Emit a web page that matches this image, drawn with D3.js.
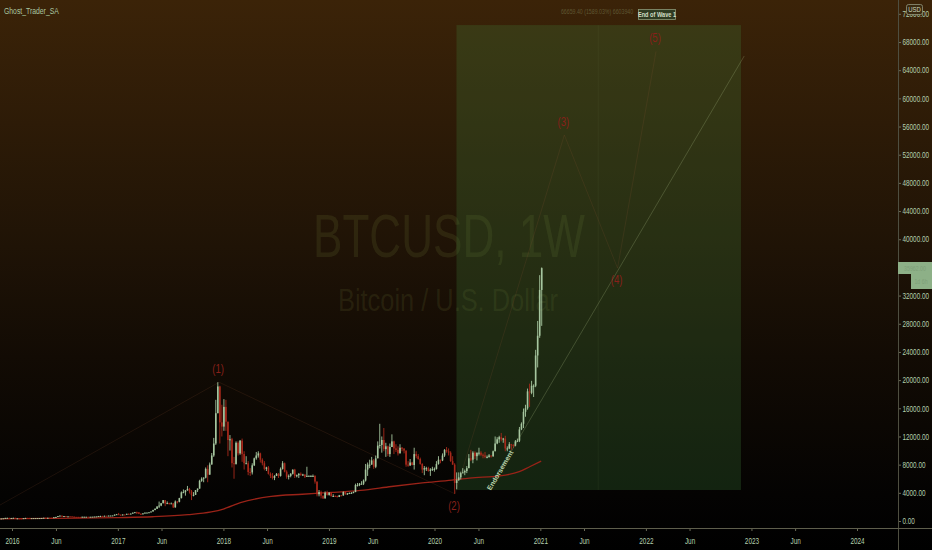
<!DOCTYPE html>
<html>
<head>
<meta charset="utf-8">
<script src="https://cdn.jsdelivr.net/npm/d3@7"></script>
<style>
html, body { margin: 0; padding: 0; background: #000; }
svg { display: block; font-family: "Liberation Sans", Arial, sans-serif; }
</style>
</head>
<body>
<div id="chart"></div>
<script>
// Weekly BTCUSD candles, first week starts Monday 2015-11-16
const firstWeek = "2015-11-16";
const firstOpen = 335;
const closes = [
  323, 360, 388, 433, 442, 422, 430,
  // 2016
  448, 380, 380, 378, 376, 406, 438, 433, 411, 412, 416, 416, 420, 421, 431, 459, 448, 460, 457, 442, 531, 578, 700, 762, 660, 703,
  650, 667, 656, 621, 590, 586, 581, 573, 606, 608, 608, 602, 610, 619, 638, 653, 700, 706, 702, 740, 732, 767, 774, 790, 892, 964,
  // 2017
  900, 823, 922, 920, 1021, 997, 1052, 1180, 1250, 1230, 1020, 967, 1080, 1190, 1190, 1240, 1350, 1550, 1730, 2050, 2190, 2520, 2960, 2500, 2540, 2500,
  2510, 1930, 2760, 2720, 3250, 4060, 4100, 4350, 4560, 4200, 3700, 3700, 4380, 4600, 5700, 6000, 6150, 7400, 6580, 8020, 9300, 11000, 15300, 19100, 14000, 13400,
  // 2018
  16200, 14100, 11500, 11600, 8200, 8100, 11100, 9600, 11400, 9500, 8200, 8200, 6950, 6900, 7900, 8900, 9300, 9600, 8700, 8200, 7400, 7600, 6700, 6400, 6100, 6400,
  6700, 6400, 7400, 8200, 7000, 6300, 6400, 6700, 7300, 6400, 6500, 6700, 6600, 6600, 6300, 6400, 6400, 6400, 6400, 5600, 3800, 4100, 3600, 3200, 4000, 3700, 4000,
  // 2019
  3500, 3550, 3530, 3420, 3650, 3620, 4120, 3820, 3900, 3980, 3990, 4100, 5100, 5100, 5300, 5300, 5750, 7300, 8000, 8000, 8600, 7700, 8900, 10700, 10800, 11500,
  10200, 10600, 9500, 10500, 11300, 10300, 10100, 9600, 10400, 10300, 10000, 8000, 7900, 8300, 7950, 9500, 9200, 8800, 8100, 7300, 7500, 7500, 7100, 7300, 7400, 7400,
  // 2020
  8100, 8700, 8600, 9300, 10100, 9900, 9700, 8500, 8000, 5400, 5800, 6200, 6800, 6900, 7100, 7500, 8900, 8700, 9700, 9200, 9700, 9700, 9400, 9300, 9100, 9100,
  9300, 9200, 9900, 11000, 11600, 11900, 11600, 11700, 10300, 10300, 10900, 10800, 10700, 11300, 11400, 13000, 13800, 15500, 16000, 18400, 18200, 19200, 19200, 23500, 26300, 32800,
  // 2021
  35900
];
const highs = [
  338, 375, 417, 468, 466, 460, 437,
  460, 452, 410, 396, 390, 410, 444, 441, 440, 419, 421, 419, 425, 424, 432, 463, 469, 463, 461, 458, 533, 589, 703, 780, 765, 705,
  703, 680, 681, 660, 622, 600, 588, 584, 612, 627, 612, 610, 612, 622, 642, 656, 720, 750, 742, 755, 751, 770, 780, 795, 932, 1000,
  1150, 910, 930, 929, 1030, 1065, 1060, 1200, 1290, 1330, 1260, 1100, 1100, 1200, 1210, 1260, 1355, 1600, 1800, 2100, 2760, 2560, 2980, 2980, 2780, 2600,
  2620, 2520, 2920, 2840, 3290, 4200, 4480, 4390, 4980, 4700, 4400, 4100, 4400, 4620, 5850, 6200, 6200, 7600, 7900, 8300, 9650, 11800, 17200, 19700, 19200, 16500,
  17300, 17200, 14100, 12200, 11800, 9100, 11300, 11300, 11500, 11700, 9900, 9200, 8500, 7500, 8200, 9000, 9800, 9900, 9700, 8900, 8500, 7700, 7800, 6900, 6800, 6500,
  6800, 6800, 7600, 8500, 8300, 7200, 6600, 6800, 7300, 7400, 6600, 6800, 6900, 6700, 6600, 7700, 6500, 6500, 6600, 6500, 5600, 4400, 4300, 3600, 4200, 4300, 4100,
  4100, 3800, 3650, 3600, 3700, 3700, 4200, 4150, 3980, 4050, 4100, 4200, 5300, 5400, 5400, 5650, 5900, 8100, 8300, 8700, 9100, 8800, 9300, 11300, 13800, 12000,
  13200, 11100, 10700, 11000, 12300, 11400, 10900, 10600, 10900, 10500, 10300, 10000, 8500, 8800, 8400, 10400, 9900, 9500, 9000, 8200, 7800, 7700, 7700, 7500, 7700, 7600,
  8500, 9200, 8700, 9600, 10200, 10500, 10300, 9900, 9200, 8200, 6900, 6900, 7000, 7500, 7300, 7800, 9500, 10100, 9900, 9900, 9700, 10400, 9900, 9600, 9800, 9300,
  9500, 9300, 10000, 12000, 11900, 12100, 12500, 11800, 12100, 10600, 11200, 10950, 10900, 11500, 11700, 13350, 14000, 15970, 16500, 18800, 19500, 19900, 19400, 24300, 28400, 34900,
  36000
];
const lows = [
  315, 316, 357, 387, 425, 415, 414,
  425, 360, 365, 368, 365, 370, 403, 409, 400, 399, 407, 409, 412, 414, 418, 430, 443, 444, 449, 432, 437, 520, 572, 690, 550, 610,
  605, 645, 645, 610, 480, 580, 567, 567, 570, 601, 601, 593, 600, 607, 617, 630, 653, 680, 690, 700, 722, 724, 750, 761, 789, 880,
  850, 750, 819, 880, 913, 940, 980, 1050, 1170, 980, 970, 900, 950, 1070, 1150, 1180, 1240, 1340, 1530, 1700, 1850, 2100, 2500, 2100, 2440, 2330,
  2480, 1840, 1900, 2480, 2650, 3200, 3950, 3600, 4300, 3900, 2970, 3500, 3700, 4120, 4580, 5560, 5500, 6050, 5500, 6550, 8000, 9100, 10800, 15300, 11000, 12000,
  12800, 12800, 9200, 10000, 7600, 6000, 8000, 9300, 9400, 8400, 7300, 8100, 6500, 6400, 6600, 7800, 8700, 9000, 8300, 7900, 7200, 7100, 6600, 6100, 5900, 5800,
  6400, 6100, 6300, 7300, 6900, 6000, 5900, 6200, 6600, 6100, 6200, 6100, 6400, 6400, 6100, 6300, 6400, 6300, 6300, 5300, 3500, 3500, 3200, 3150, 3200, 3600, 3600,
  3500, 3500, 3450, 3350, 3400, 3550, 3600, 3700, 3720, 3820, 3900, 3950, 4100, 4900, 4950, 5150, 5100, 5600, 6400, 7500, 8000, 7400, 7500, 8900, 10300, 9700,
  9900, 9100, 9200, 9100, 10500, 9500, 9800, 9300, 9600, 9900, 9600, 7700, 7700, 7800, 7900, 7300, 8900, 8700, 8000, 6800, 6500, 7100, 7000, 6400, 7100, 7000,
  7300, 8000, 8200, 8500, 9100, 9700, 9300, 8400, 8000, 3850, 4500, 5700, 5900, 6800, 6500, 6800, 7500, 8500, 8200, 8800, 8600, 9300, 9200, 8900, 8900, 8900,
  9000, 9000, 9100, 9900, 10900, 11100, 11300, 11100, 9900, 9900, 10200, 10100, 10400, 10600, 11200, 11200, 12900, 13200, 14800, 15800, 16200, 18000, 17600, 19000, 21800, 26000,
  27700
];

// moving average (red line)
const maDates = ["2015-11-16", "2016-06-01", "2017-01-01", "2017-05-01", "2017-09-01", "2017-11-20", "2018-01-01",
  "2018-03-01", "2018-06-15", "2018-10-01", "2019-01-10", "2019-04-20", "2019-08-05", "2019-11-20", "2020-03-01",
  "2020-05-01", "2020-08-15", "2020-10-20", "2020-11-25", "2021-01-04"];
const maValues = [300, 380, 480, 600, 900, 1300, 1700, 2600, 3500, 3800, 4050, 4350, 4900, 5400, 5800,
  6100, 6400, 7000, 7700, 8500];

// axes (36000 sits under the last-price label and is not shown)
const priceTicks = [0, 4000, 8000, 12000, 16000, 20000, 24000, 28000, 32000, 36000, 40000, 44000, 48000,
  52000, 56000, 60000, 64000, 68000, 72000];
const hiddenTicks = [36000];
const timeTicks = ["2016-01-01", "2016-06-01", "2017-01-01", "2017-06-01", "2018-01-01", "2018-06-01",
  "2019-01-01", "2019-06-01", "2020-01-01", "2020-06-01", "2021-01-01", "2021-06-01", "2022-01-01",
  "2022-06-01", "2023-01-01", "2023-06-01", "2024-01-01"];

// Elliott wave count
const waveNames = ["", "(1)", "(2)", "(3)", "(4)", "(5)"];
const waveDates = ["2015-08-24", "2017-12-17", "2020-03-12", "2021-03-25", "2021-09-25", "2022-02-05"];
const wavePrices = [230, 19700, 3850, 54800, 35900, 66659];

// drawings
const boxDates = ["2020-03-17", "2022-11-26"];
const boxPrices = [4400, 70400];
const trendDates = ["2020-07-16", "2022-12-07"];
const trendPrices = [5110, 66010];
const markerDate = "2021-07-20";

const W = 932, H = 550;
const axisX = 898, axisY = 528;

const svg = d3.select("#chart").append("svg")
    .attr("width", W)
    .attr("height", H);

const defs = svg.append("defs");
const bg = defs.append("linearGradient")
    .attr("id", "bg")
    .attr("x1", 0).attr("y1", 0).attr("x2", 0).attr("y2", 1);
[[0, "#3b2308"], [0.45, "#1f1306"], [0.65, "#120b04"], [0.9, "#040302"], [1, "#000"]].forEach(s => {
    bg.append("stop").attr("offset", s[0]).attr("stop-color", s[1]);
});
defs.append("clipPath").attr("id", "plot")
    .append("rect").attr("width", axisX).attr("height", axisY);

svg.append("rect")
    .attr("width", W)
    .attr("height", H)
    .attr("fill", "url(#bg)");

// Scales
const x = d3.scaleUtc()
    .domain([new Date("2016-01-01"), new Date("2024-01-01")])
    .range([12, 857]);

const y = d3.scaleLinear()
    .domain([0, 72000])
    .range([521, 521 - 72000 * 0.0070441]);

const plot = svg.append("g").attr("clip-path", "url(#plot)");

// Watermark
plot.append("text")
    .attr("x", 449).attr("y", 257)
    .attr("text-anchor", "middle")
    .attr("font-size", 61)
    .attr("textLength", 272)
    .attr("lengthAdjust", "spacingAndGlyphs")
    .attr("fill", "rgba(120,128,58,0.17)")
    .text("BTCUSD, 1W");

plot.append("text")
    .attr("x", 448).attr("y", 311)
    .attr("text-anchor", "middle")
    .attr("font-size", 31)
    .attr("textLength", 220)
    .attr("lengthAdjust", "spacingAndGlyphs")
    .attr("fill", "rgba(120,128,58,0.17)")
    .text("Bitcoin / U.S. Dollar");

// Green box
const bx0 = x(new Date(boxDates[0])), bx1 = x(new Date(boxDates[1]));
plot.append("rect")
    .attr("x", bx0)
    .attr("y", y(boxPrices[1]))
    .attr("width", bx1 - bx0)
    .attr("height", y(boxPrices[0]) - y(boxPrices[1]))
    .attr("fill", "rgba(62,130,58,0.25)");

plot.append("line")
    .attr("x1", x(new Date(markerDate))).attr("x2", x(new Date(markerDate)))
    .attr("y1", y(boxPrices[1])).attr("y2", y(boxPrices[0]))
    .attr("stroke", "rgba(150,170,110,0.07)");

// Wave lines
const waves = waveDates.map((d, i) => ({ date: new Date(d), price: wavePrices[i], name: waveNames[i] }));
plot.append("path")
    .datum(waves)
    .attr("fill", "none")
    .attr("stroke", "rgba(150,90,55,0.16)")
    .attr("stroke-width", 1)
    .attr("d", d3.line().x(d => x(d.date)).y(d => y(d.price)));

// Moving average
plot.append("path")
    .datum(maDates.map((d, i) => ({ date: new Date(d), v: maValues[i] })))
    .attr("fill", "none")
    .attr("stroke", "#9a2318")
    .attr("stroke-width", 1.3)
    .attr("d", d3.line().curve(d3.curveMonotoneX).x(d => x(d.date)).y(d => y(d.v)));

// Candles
const start = new Date(firstWeek);
const candles = closes.map((c, i) => ({
    date: d3.utcMonday.offset(start, i),
    open: i ? closes[i - 1] : firstOpen,
    close: c,
    high: highs[i],
    low: lows[i]
}));
const upColor = "#a6c69f", downColor = "#a8291b";
const cg = plot.append("g").selectAll("g")
    .data(candles)
    .join("g")
    .attr("transform", d => `translate(${x(d.date) + 0.5},0)`);
cg.append("line")
    .attr("y1", d => y(d.high))
    .attr("y2", d => y(d.low))
    .attr("stroke", d => d.close >= d.open ? upColor : downColor)
    .attr("stroke-width", 0.9);
cg.append("rect")
    .attr("x", -0.8)
    .attr("width", 1.6)
    .attr("y", d => y(Math.max(d.open, d.close)))
    .attr("height", d => Math.max(1, Math.abs(y(d.open) - y(d.close))))
    .attr("fill", d => d.close >= d.open ? upColor : downColor);

// Trend line
const t0 = [x(new Date(trendDates[0])), y(trendPrices[0])];
const t1 = [x(new Date(trendDates[1])), y(trendPrices[1])];
plot.append("line")
    .attr("x1", t0[0]).attr("y1", t0[1])
    .attr("x2", t1[0]).attr("y2", t1[1])
    .attr("stroke", "rgba(160,180,125,0.28)")
    .attr("stroke-width", 1);
const ang = Math.atan2(t1[1] - t0[1], t1[0] - t0[0]);
plot.append("text")
    .attr("transform", `translate(${t0[0] + 17 * Math.cos(ang)},${t0[1] + 17 * Math.sin(ang)}) rotate(${ang * 180 / Math.PI})`)
    .attr("text-anchor", "middle")
    .attr("dy", "0.35em")
    .attr("font-size", 7)
    .attr("font-weight", "bold")
    .attr("fill", "#b9d2aa")
    .text("Endorsement");

// Wave labels
const peak = [false, true, false, true, false, true];
plot.append("g").selectAll("text")
    .data(waves.filter(d => d.name))
    .join("text")
    .attr("transform", (d, i) => `translate(${x(d.date) - 1},${y(d.price) + (peak[i + 1] ? -9 : 16)}) scale(0.8,1)`)
    .attr("text-anchor", "middle")
    .attr("font-size", 12)
    .attr("fill", "#88201a")
    .text(d => d.name);

// Top annotation
svg.append("text")
    .attr("transform", "translate(597,14) scale(0.75,1)")
    .attr("text-anchor", "middle")
    .attr("font-size", 7)
    .attr("fill", "#5f5733")
    .text("66659.40 (1589.03%) 6603940");
svg.append("rect")
    .attr("x", 638.5).attr("y", 9.5)
    .attr("width", 37).attr("height", 10)
    .attr("fill", "#2f3b22")
    .attr("stroke", "#8a9878")
    .attr("stroke-width", 0.8);
svg.append("text")
    .attr("transform", "translate(657,17) scale(0.75,1)")
    .attr("text-anchor", "middle")
    .attr("font-size", 7.5)
    .attr("font-weight", "bold")
    .attr("fill", "#d2ddc4")
    .text("End of Wave 1");

// Axes
const axisColor = "#b3cfae";
const yAxis = svg.append("g")
    .attr("transform", `translate(${axisX},0)`)
    .call(d3.axisRight(y).tickValues(priceTicks).tickSize(3).tickPadding(3)
        .tickFormat(d => hiddenTicks.includes(d) ? "" : d.toFixed(2)));
const xAxis = svg.append("g")
    .attr("transform", `translate(0,${axisY})`)
    .call(d3.axisBottom(x).tickValues(timeTicks.map(d => new Date(d))).tickSize(3).tickPadding(7)
        .tickFormat(d => d.getUTCMonth() ? "Jun" : d.getUTCFullYear()));
[yAxis, xAxis].forEach(a => {
    a.select(".domain").remove();
    a.selectAll("line").attr("stroke", "#6b6b58");
    a.selectAll("text")
        .attr("fill", axisColor)
        .attr("font-size", 8.5)
        .attr("font-family", "Liberation Sans, Arial, sans-serif")
        .attr("transform", "scale(0.75,1)");
});

svg.append("line")
    .attr("x1", axisX + 0.5).attr("x2", axisX + 0.5)
    .attr("y1", 0).attr("y2", H)
    .attr("stroke", "#4e4e40");
svg.append("line")
    .attr("x1", 0).attr("x2", W)
    .attr("y1", axisY + 0.5).attr("y2", axisY + 0.5)
    .attr("stroke", "#5e5e4c");

// Last price labels
svg.append("rect")
    .attr("x", axisX).attr("y", 262)
    .attr("width", W - axisX).attr("height", 12)
    .attr("fill", "#8db087");
svg.append("rect")
    .attr("x", 911).attr("y", 274)
    .attr("width", W - 911).attr("height", 15)
    .attr("fill", "#8db087");
svg.append("text")
    .attr("transform", "translate(915,271) scale(0.75,1)")
    .attr("text-anchor", "middle")
    .attr("font-size", 7)
    .attr("fill", "#7e9f78")
    .text("35962.00");
svg.append("text")
    .attr("transform", "translate(921,284) scale(0.75,1)")
    .attr("text-anchor", "middle")
    .attr("font-size", 7)
    .attr("fill", "#7e9f78")
    .text("1d 6h");

// USD badge
svg.append("rect")
    .attr("x", 906.5).attr("y", 4.5)
    .attr("width", 16).attr("height", 10)
    .attr("rx", 2)
    .attr("fill", "#3a2a10")
    .attr("stroke", "#90957c")
    .attr("stroke-width", 0.8);
svg.append("text")
    .attr("transform", "translate(914.5,12.3) scale(0.8,1)")
    .attr("text-anchor", "middle")
    .attr("font-size", 7.5)
    .attr("fill", "#cad6be")
    .text("USD");

// Header
svg.append("text")
    .attr("transform", "translate(4,13.5) scale(0.72,1)")
    .attr("font-size", 9.5)
    .attr("fill", "#a9c6a0")
    .text("Ghost_Trader_SA");
</script>
</body>
</html>
